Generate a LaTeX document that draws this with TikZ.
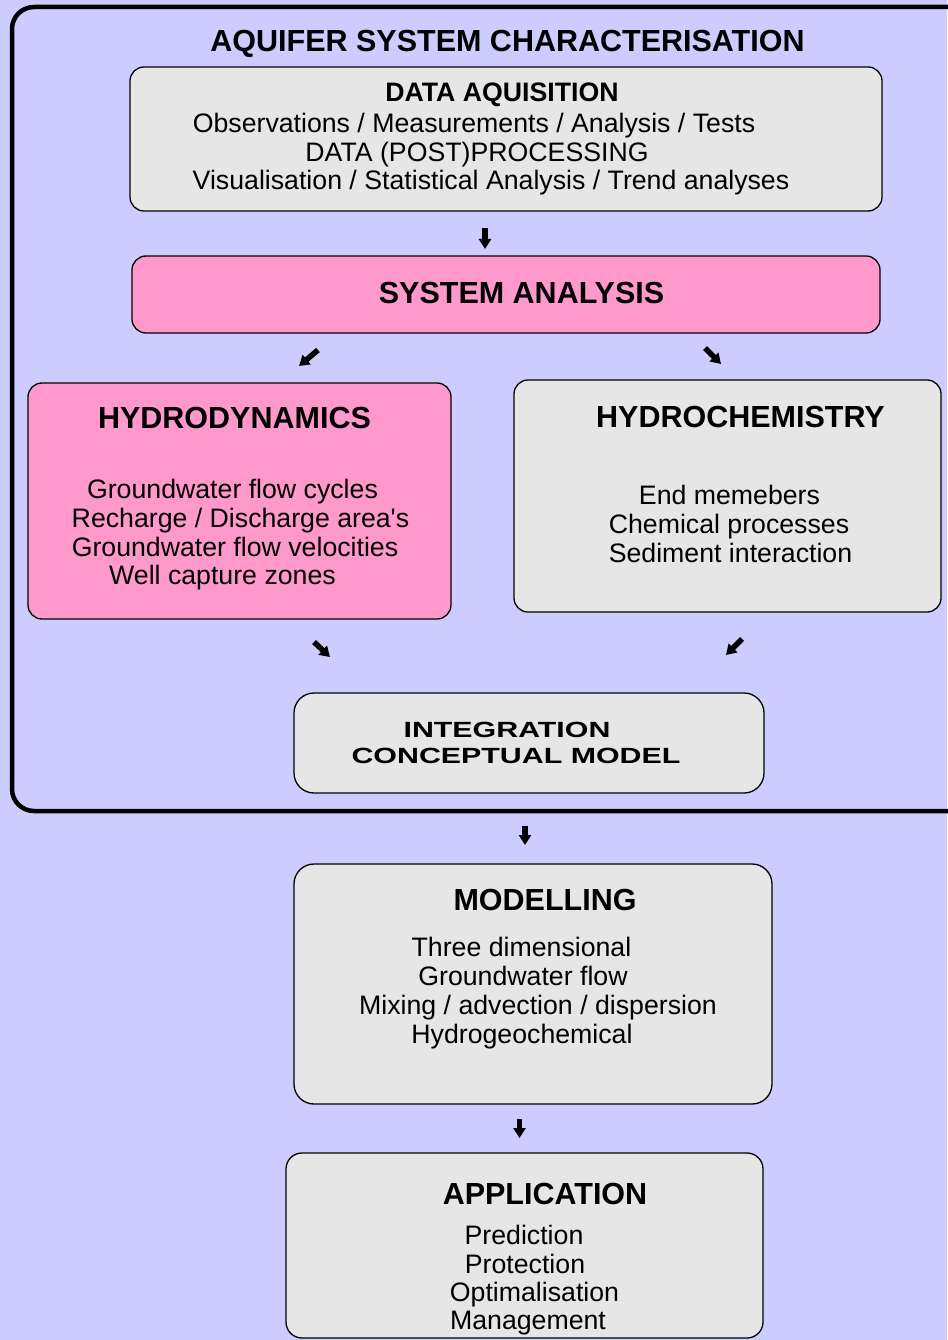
\documentclass[tikz,border=0pt]{standalone}
\usepackage{fontspec}
\setmainfont{Liberation Sans}[Ligatures=TeXOff]
\newfontfamily\widefont[FakeStretch=1.38]{Liberation Sans Bold}
\usetikzlibrary{arrows.meta}
\definecolor{lavender}{HTML}{CCCCFF}
\definecolor{boxgrey}{HTML}{E6E6E6}
\definecolor{boxpink}{HTML}{FF99CC}
\begin{document}
\begin{tikzpicture}[x=1pt,y=-1pt,
  box/.style={draw=black, line width=1.3pt, rounded corners=14pt},
  greybox/.style={box, fill=boxgrey},
  pinkbox/.style={box, fill=boxpink},
  txt/.style={inner sep=0pt, yshift=-7pt},
  head/.style={txt, font=\fontsize{30.5}{32}\selectfont\bfseries, text height=0.72em, text depth=0pt},
  subhead/.style={head, font=\fontsize{26.7}{28}\selectfont\bfseries},
  body/.style={txt, font=\fontsize{26.7}{28}\selectfont, text height=0.72em, text depth=0.21em},
  widehead/.style={txt, font=\fontsize{22}{24}\widefont, text height=0.72em, text depth=0pt},
  blockarrow/.style={line width=5.5pt, -{Triangle[width=12pt,length=10pt]}}
]
% page and background
\useasboundingbox (0,0) rectangle (947,1340);
\fill[lavender] (0,0) rectangle (947,1340);

% outer frame of the characterisation stage
\draw[line width=4.5pt, rounded corners=22pt] (12,7) rectangle (980,811);
\node[head] (title) at (507.5,41) {AQUIFER SYSTEM CHARACTERISATION};

% data acquisition
\draw[greybox] (130,67) rectangle (882,211);
\node[subhead] (dataH) at (502,91) {DATA AQUISITION};
\node[body] (data1) at (474,123) {Observations / Measurements / Analysis / Tests};
\node[body] (data2) at (477,152) {DATA (POST)PROCESSING};
\node[body] (data3) at (491,180) {Visualisation / Statistical Analysis / Trend analyses};

% system analysis
\draw[pinkbox] (132,256) rectangle (880,333);
\node[head] (sys) at (521.5,293) {SYSTEM ANALYSIS};

% hydrodynamics
\draw[pinkbox] (28,383) rectangle (451,619);
\node[head] (hydH) at (234.5,418) {HYDRODYNAMICS};
\node[body] (hyd1) at (232.5,489) {Groundwater flow cycles};
\node[body] (hyd2) at (240.5,518) {Recharge / Discharge area's};
\node[body] (hyd3) at (235,547) {Groundwater flow velocities};
\node[body] (hyd4) at (222.5,575) {Well capture zones};

% hydrochemistry
\draw[greybox] (514,380) rectangle (941,612);
\node[head] (chemH) at (740.5,417) {HYDROCHEMISTRY};
\node[body] (chem1) at (729.5,495) {End memebers};
\node[body] (chem2) at (729,524) {Chemical processes};
\node[body] (chem3) at (730.5,553) {Sediment interaction};

% integration
\draw[greybox, rounded corners=20pt] (294,693) rectangle (764,793);
\node[widehead] (int1) at (507,727) {INTEGRATION};
\node[widehead] (int2) at (516,753) {CONCEPTUAL MODEL};

% modelling
\draw[greybox, rounded corners=20pt] (294,864) rectangle (772,1104);
\node[head] (modH) at (545,900) {MODELLING};
\node[body] (mod1) at (521.5,947) {Three dimensional};
\node[body] (mod2) at (523,976) {Groundwater flow};
\node[body] (mod3) at (538,1005) {Mixing / advection / dispersion};
\node[body] (mod4) at (522,1034) {Hydrogeochemical};

% application
\draw[greybox, rounded corners=16pt] (286,1153) rectangle (763,1338);
\node[head] (appH) at (545,1194) {APPLICATION};
\node[body] (app1) at (524,1235) {Prediction};
\node[body] (app2) at (525,1264) {Protection};
\node[body] (app3) at (534.5,1292) {Optimalisation};
\node[body] (app4) at (528,1320) {Management};

% flow arrows between the stages
\coordinate (a1s) at (485,228);   \coordinate (a1e) at (485,249);
\coordinate (a2s) at (318,350);   \coordinate (a2e) at (299,366);
\coordinate (a3s) at (705,348);   \coordinate (a3e) at (721,364);
\coordinate (a4s) at (314,642);   \coordinate (a4e) at (330,657);
\coordinate (a5s) at (742,639);   \coordinate (a5e) at (726,655);
\coordinate (a6s) at (525,826);   \coordinate (a6e) at (525,845);
\coordinate (a7s) at (519.5,1119); \coordinate (a7e) at (519.5,1138);
\foreach \i in {1,...,7} \draw[blockarrow] (a\i s) -- (a\i e);
\end{tikzpicture}
\end{document}
